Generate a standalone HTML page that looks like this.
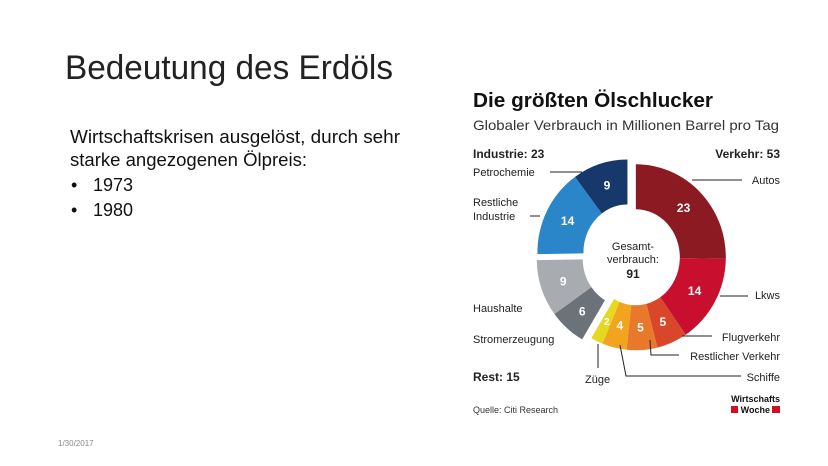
<!DOCTYPE html>
<html><head><meta charset="utf-8"><style>
html,body{margin:0;padding:0;background:#fff}
svg{display:block;font-family:"Liberation Sans",sans-serif}
</style></head><body>
<svg width="828" height="466" viewBox="0 0 828 466">
<text x="65" y="79" font-size="34" fill="#222" textLength="328" lengthAdjust="spacingAndGlyphs">Bedeutung des Erdöls</text>
<g font-size="18" fill="#111">
<text x="70" y="143" textLength="330" lengthAdjust="spacingAndGlyphs">Wirtschaftskrisen ausgelöst, durch sehr</text>
<text x="70" y="166" textLength="237" lengthAdjust="spacingAndGlyphs">starke angezogenen Ölpreis:</text>
<text x="71" y="191">•</text><text x="93" y="191">1973</text>
<text x="71" y="216">•</text><text x="93" y="216">1980</text>
</g>
<text x="58" y="446" font-size="8" fill="#888">1/30/2017</text>

<g>
<text x="473" y="107" font-size="20" font-weight="bold" fill="#111" textLength="240" lengthAdjust="spacingAndGlyphs">Die größten Ölschlucker</text>
<text x="473" y="130" font-size="14" fill="#333" textLength="306" lengthAdjust="spacingAndGlyphs">Globaler Verbrauch in Millionen Barrel pro Tag</text>
<g id="donut"></g>
<g id="labels" font-size="11" fill="#222"></g>
<g font-size="11" fill="#222" text-anchor="middle">
<text x="633" y="250">Gesamt-</text><text x="633" y="263">verbrauch:</text>
<text x="633" y="278" font-weight="bold" font-size="12">91</text></g>
<text x="473" y="413" font-size="9" fill="#333">Quelle: Citi Research</text>
<g font-size="9" font-weight="bold" fill="#111">
<text x="780" y="402" text-anchor="end">Wirtschafts</text>
<rect x="731" y="406" width="7" height="7" fill="#d0101e"/><text x="770" y="413" text-anchor="end">Woche</text>
<rect x="772" y="406" width="8" height="7" fill="#d0101e"/></g>
</g>
</svg>
<script>
const categories=["Autos","Lkws","Flugverkehr","Restlicher Verkehr","Schiffe","Züge","Stromerzeugung","Haushalte","Restliche Industrie","Petrochemie"];
const values=[23,14,5,5,4,2,6,9,14,9];
const groups=[0,0,0,0,0,0,1,1,2,2];
const groupNames=["Verkehr","Rest","Industrie"];
const colors=["#8b1a22","#c8102e","#d9472b","#e8782a","#f2a41e","#e6d820","#6b7279","#a8abaf","#2a86c8","#17386a"];
const NS="http://www.w3.org/2000/svg";
const cx=631,cy=256,rx=90,ry=93,irx=44,iry=48,explode=5;
const total=values.reduce((a,b)=>a+b,0);
const gsum=[0,0,0];values.forEach((v,i)=>gsum[groups[i]]+=v);
const gstart=[];{let a=0;for(let g=0;g<3;g++){gstart.push(a);a+=gsum[g];}}
function pt(a,r1,r2,ox,oy){const t=a/total*2*Math.PI;return [cx+ox+r1*Math.sin(t),cy+oy-r2*Math.cos(t)];}
const donut=document.getElementById('donut');
let acc=0;
values.forEach((v,i)=>{
 const g=groups[i];const mid=(gstart[g]+gsum[g]/2)/total*2*Math.PI;
 const ox=explode*Math.sin(mid),oy=-explode*Math.cos(mid);
 const a0=acc,a1=acc+v;acc=a1;
 const large=(v/total>0.5)?1:0;
 const p0=pt(a0,rx,ry,ox,oy),p1=pt(a1,rx,ry,ox,oy),q1=pt(a1,irx,iry,ox,oy),q0=pt(a0,irx,iry,ox,oy);
 const p=document.createElementNS(NS,'path');
 p.setAttribute('d',`M${p0}A${rx},${ry} 0 ${large} 1 ${p1}L${q1}A${irx},${iry} 0 ${large} 0 ${q0}Z`);
 p.setAttribute('fill',colors[i]);
 
 
 donut.appendChild(p);
 const lp=pt((a0+a1)/2,(rx+irx)/2,(ry+iry)/2,ox,oy);
 const t=document.createElementNS(NS,'text');
 t.setAttribute('x',lp[0]);t.setAttribute('y',lp[1]+4);
 t.setAttribute('text-anchor','middle');t.setAttribute('font-size',v<3?'10':'12');
 t.setAttribute('font-weight','bold');t.setAttribute('fill','#fff');
 t.textContent=v;
 
 
 donut.appendChild(t);
});
const L=document.getElementById('labels');
function txt(x,y,s,anchor,bold,name){const t=document.createElementNS(NS,'text');t.setAttribute('x',x);t.setAttribute('y',y);if(anchor)t.setAttribute('text-anchor',anchor);if(bold){t.setAttribute('font-weight','bold');t.setAttribute('font-size','12');}t.textContent=s;
 
 
 L.appendChild(t);}
function line(d){const p=document.createElementNS(NS,'polyline');p.setAttribute('points',d);p.setAttribute('fill','none');p.setAttribute('stroke','#222');p.setAttribute('stroke-width','1');
 
 
 L.appendChild(p);}
txt(473,158,groupNames[2]+": "+gsum[2],null,true,'group-total-industrie');
txt(780,158,groupNames[0]+": "+gsum[0],'end',true,'group-total-verkehr');
txt(473,381,groupNames[1]+": "+gsum[1],null,true,'group-total-rest');
txt(473,176,"Petrochemie",null,false,'label-petrochemie');line("550,172 582,172");
txt(473,206,"Restliche",null,false,'label-restliche-industrie');txt(473,220,"Industrie",null,false,'label-restliche-industrie-2');line("530,216 540,216");
txt(473,312,"Haushalte",null,false,'label-haushalte');
txt(473,343,"Stromerzeugung",null,false,'label-stromerzeugung');
txt(780,184,"Autos",'end',false,'label-autos');line("692,180 742,180");
txt(780,299,"Lkws",'end',false,'label-lkws');line("720,296 748,296");
txt(780,341,"Flugverkehr",'end',false,'label-flugverkehr');line("682,336 712,336");
txt(780,360,"Restlicher Verkehr",'end',false,'label-restlicher-verkehr');line("650,340 651,355 679,355");
txt(780,381,"Schiffe",'end',false,'label-schiffe');line("620,345 626,376 741,376");
txt(585,383,"Züge",null,false,'label-zuege');line("598,344 598,368");
</script>
</body></html>
